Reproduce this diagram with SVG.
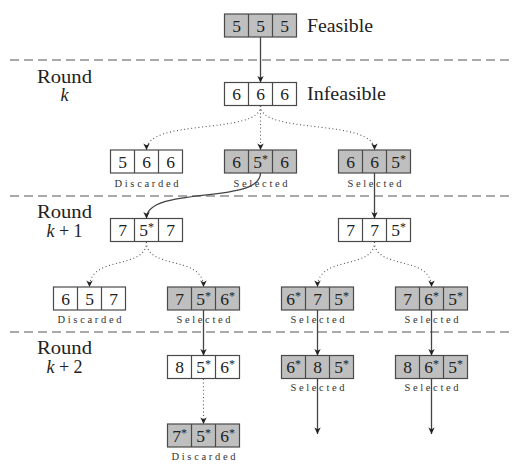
<svg xmlns="http://www.w3.org/2000/svg" width="516" height="464" viewBox="0 0 516 464">
<style>
.bx{stroke:#4a4a4a;stroke-width:1.2}
.g{fill:#bfbfbf}
.w{fill:#ffffff}
.d{font-size:17.5px;fill:#222;text-anchor:middle}
.s{font-size:12px}
.lab{font-size:10.5px;fill:#333;text-anchor:middle}
.big{font-size:18px;fill:#222}
.rd{font-size:18px;fill:#222;text-anchor:middle}
.sep{stroke:#555;stroke-width:1.1;stroke-dasharray:9 5;fill:none}
.sol{stroke:#444;stroke-width:1.3;fill:none;marker-end:url(#ah)}
.dot{stroke:#555;stroke-width:1.1;stroke-dasharray:1 2.6;fill:none;marker-end:url(#ah)}
</style>
<defs>
<marker id="ah" markerUnits="userSpaceOnUse" markerWidth="8" markerHeight="8" refX="7" refY="4" orient="auto">
<path d="M0.5,0.8 L7,4 L0.5,7.2 L2.2,4 Z" fill="#222"/>
</marker>
</defs>
<rect width="516" height="464" fill="#fff"/>
<g id="separators">
<line class="sep" x1="10" y1="60" x2="510" y2="60"/>
<line class="sep" x1="10" y1="196" x2="510" y2="196"/>
<line class="sep" x1="10" y1="332" x2="510" y2="332"/>
</g>
<g id="round-labels">
<text font-family="Liberation Serif" class="rd" x="64.5" y="82.5" textLength="55" lengthAdjust="spacingAndGlyphs">Round</text>
<text font-family="Liberation Serif" class="rd" x="64.5" y="101"><tspan font-style="italic">k</tspan></text>
<text font-family="Liberation Serif" class="rd" x="64.5" y="218" textLength="55" lengthAdjust="spacingAndGlyphs">Round</text>
<text font-family="Liberation Serif" class="rd" x="64.5" y="236.5"><tspan font-style="italic">k</tspan> + 1</text>
<text font-family="Liberation Serif" class="rd" x="64.5" y="354" textLength="55" lengthAdjust="spacingAndGlyphs">Round</text>
<text font-family="Liberation Serif" class="rd" x="64.5" y="373"><tspan font-style="italic">k</tspan> + 2</text>
</g>
<g id="n555">
<rect class="bx g" x="224.5" y="14" width="72" height="23"/>
<path class="bx" d="M248.5,14V37M272.5,14V37"/>
<text font-family="Liberation Serif" class="d" x="236.5" y="31.5">5</text><text font-family="Liberation Serif" class="d" x="260.5" y="31.5">5</text><text font-family="Liberation Serif" class="d" x="284.5" y="31.5">5</text>
<text font-family="Liberation Serif" class="big" x="307" y="32" textLength="66" lengthAdjust="spacingAndGlyphs">Feasible</text>
</g>
<g id="n666">
<rect class="bx w" x="224.5" y="82.5" width="72" height="23"/>
<path class="bx" d="M248.5,82.5V105.5M272.5,82.5V105.5"/>
<text font-family="Liberation Serif" class="d" x="236.5" y="100">6</text><text font-family="Liberation Serif" class="d" x="260.5" y="100">6</text><text font-family="Liberation Serif" class="d" x="284.5" y="100">6</text>
<text font-family="Liberation Serif" class="big" x="307" y="100" textLength="79" lengthAdjust="spacingAndGlyphs">Infeasible</text>
</g>
<g id="n566">
<rect class="bx w" x="110.5" y="150" width="72" height="23"/>
<path class="bx" d="M134.5,150V173M158.5,150V173"/>
<text font-family="Liberation Serif" class="d" x="122.5" y="167.5">5</text><text font-family="Liberation Serif" class="d" x="146.5" y="167.5">6</text><text font-family="Liberation Serif" class="d" x="170.5" y="167.5">6</text>
<text font-family="Liberation Serif" class="lab" x="146.5" y="187" textLength="64" lengthAdjust="spacing">Discarded</text>
</g>
<g id="n65s6">
<rect class="bx g" x="224.5" y="150" width="72" height="23"/>
<path class="bx" d="M248.5,150V173M272.5,150V173"/>
<text font-family="Liberation Serif" class="d" x="236.5" y="167.5">6</text><text font-family="Liberation Serif" class="d" x="260.5" y="167.5">5<tspan class="s" dy="-5">*</tspan></text><text font-family="Liberation Serif" class="d" x="284.5" y="167.5">6</text>
<text font-family="Liberation Serif" class="lab" x="260.5" y="187" textLength="54" lengthAdjust="spacing">Selected</text>
</g>
<g id="n665s">
<rect class="bx g" x="338.5" y="150" width="72" height="23"/>
<path class="bx" d="M362.5,150V173M386.5,150V173"/>
<text font-family="Liberation Serif" class="d" x="350.5" y="167.5">6</text><text font-family="Liberation Serif" class="d" x="374.5" y="167.5">6</text><text font-family="Liberation Serif" class="d" x="398.5" y="167.5">5<tspan class="s" dy="-5">*</tspan></text>
<text font-family="Liberation Serif" class="lab" x="374.5" y="187" textLength="54" lengthAdjust="spacing">Selected</text>
</g>
<g id="n75s7">
<rect class="bx w" x="110.5" y="218.5" width="72" height="23"/>
<path class="bx" d="M134.5,218.5V241.5M158.5,218.5V241.5"/>
<text font-family="Liberation Serif" class="d" x="122.5" y="236">7</text><text font-family="Liberation Serif" class="d" x="146.5" y="236">5<tspan class="s" dy="-5">*</tspan></text><text font-family="Liberation Serif" class="d" x="170.5" y="236">7</text>
</g>
<g id="n775s">
<rect class="bx w" x="338.5" y="218.5" width="72" height="23"/>
<path class="bx" d="M362.5,218.5V241.5M386.5,218.5V241.5"/>
<text font-family="Liberation Serif" class="d" x="350.5" y="236">7</text><text font-family="Liberation Serif" class="d" x="374.5" y="236">7</text><text font-family="Liberation Serif" class="d" x="398.5" y="236">5<tspan class="s" dy="-5">*</tspan></text>
</g>
<g id="n657">
<rect class="bx w" x="53.5" y="287" width="72" height="23"/>
<path class="bx" d="M77.5,287V310M101.5,287V310"/>
<text font-family="Liberation Serif" class="d" x="65.5" y="304.5">6</text><text font-family="Liberation Serif" class="d" x="89.5" y="304.5">5</text><text font-family="Liberation Serif" class="d" x="113.5" y="304.5">7</text>
<text font-family="Liberation Serif" class="lab" x="89.5" y="322.5" textLength="64" lengthAdjust="spacing">Discarded</text>
</g>
<g id="n75s6s">
<rect class="bx g" x="167.5" y="287" width="72" height="23"/>
<path class="bx" d="M191.5,287V310M215.5,287V310"/>
<text font-family="Liberation Serif" class="d" x="179.5" y="304.5">7</text><text font-family="Liberation Serif" class="d" x="203.5" y="304.5">5<tspan class="s" dy="-5">*</tspan></text><text font-family="Liberation Serif" class="d" x="227.5" y="304.5">6<tspan class="s" dy="-5">*</tspan></text>
<text font-family="Liberation Serif" class="lab" x="203.5" y="322.5" textLength="54" lengthAdjust="spacing">Selected</text>
</g>
<g id="n6s75s">
<rect class="bx g" x="281.5" y="287" width="72" height="23"/>
<path class="bx" d="M305.5,287V310M329.5,287V310"/>
<text font-family="Liberation Serif" class="d" x="293.5" y="304.5">6<tspan class="s" dy="-5">*</tspan></text><text font-family="Liberation Serif" class="d" x="317.5" y="304.5">7</text><text font-family="Liberation Serif" class="d" x="341.5" y="304.5">5<tspan class="s" dy="-5">*</tspan></text>
<text font-family="Liberation Serif" class="lab" x="317.5" y="322.5" textLength="54" lengthAdjust="spacing">Selected</text>
</g>
<g id="n76s5s">
<rect class="bx g" x="395.5" y="287" width="72" height="23"/>
<path class="bx" d="M419.5,287V310M443.5,287V310"/>
<text font-family="Liberation Serif" class="d" x="407.5" y="304.5">7</text><text font-family="Liberation Serif" class="d" x="431.5" y="304.5">6<tspan class="s" dy="-5">*</tspan></text><text font-family="Liberation Serif" class="d" x="455.5" y="304.5">5<tspan class="s" dy="-5">*</tspan></text>
<text font-family="Liberation Serif" class="lab" x="431.5" y="322.5" textLength="54" lengthAdjust="spacing">Selected</text>
</g>
<g id="n85s6s">
<rect class="bx w" x="167.5" y="355.5" width="72" height="23"/>
<path class="bx" d="M191.5,355.5V378.5M215.5,355.5V378.5"/>
<text font-family="Liberation Serif" class="d" x="179.5" y="373">8</text><text font-family="Liberation Serif" class="d" x="203.5" y="373">5<tspan class="s" dy="-5">*</tspan></text><text font-family="Liberation Serif" class="d" x="227.5" y="373">6<tspan class="s" dy="-5">*</tspan></text>
</g>
<g id="n6s85s">
<rect class="bx g" x="281.5" y="355.5" width="72" height="23"/>
<path class="bx" d="M305.5,355.5V378.5M329.5,355.5V378.5"/>
<text font-family="Liberation Serif" class="d" x="293.5" y="373">6<tspan class="s" dy="-5">*</tspan></text><text font-family="Liberation Serif" class="d" x="317.5" y="373">8</text><text font-family="Liberation Serif" class="d" x="341.5" y="373">5<tspan class="s" dy="-5">*</tspan></text>
<text font-family="Liberation Serif" class="lab" x="317.5" y="391" textLength="54" lengthAdjust="spacing">Selected</text>
</g>
<g id="n86s5s">
<rect class="bx g" x="395.5" y="355.5" width="72" height="23"/>
<path class="bx" d="M419.5,355.5V378.5M443.5,355.5V378.5"/>
<text font-family="Liberation Serif" class="d" x="407.5" y="373">8</text><text font-family="Liberation Serif" class="d" x="431.5" y="373">6<tspan class="s" dy="-5">*</tspan></text><text font-family="Liberation Serif" class="d" x="455.5" y="373">5<tspan class="s" dy="-5">*</tspan></text>
<text font-family="Liberation Serif" class="lab" x="431.5" y="391" textLength="54" lengthAdjust="spacing">Selected</text>
</g>
<g id="n7s5s6s">
<rect class="bx g" x="167.5" y="424" width="72" height="23"/>
<path class="bx" d="M191.5,424V447M215.5,424V447"/>
<text font-family="Liberation Serif" class="d" x="179.5" y="441.5">7<tspan class="s" dy="-5">*</tspan></text><text font-family="Liberation Serif" class="d" x="203.5" y="441.5">5<tspan class="s" dy="-5">*</tspan></text><text font-family="Liberation Serif" class="d" x="227.5" y="441.5">6<tspan class="s" dy="-5">*</tspan></text>
<text font-family="Liberation Serif" class="lab" x="203.5" y="459.5" textLength="64" lengthAdjust="spacing">Discarded</text>
</g>
<g id="connectors">
<path class="sol" d="M260.5,37V82.5"/>
<path class="dot" d="M260.5,106C260.5,135 146.5,118 146.5,150"/>
<path class="dot" d="M260.5,106V150"/>
<path class="dot" d="M260.5,106C260.5,135 374.5,118 374.5,150"/>
<path class="sol" d="M260.5,173C260.5,205 146.5,185 146.5,218.5"/>
<path class="sol" d="M374.5,173V218.5"/>
<path class="dot" d="M146.5,242C146.5,270 89.5,255 89.5,287"/>
<path class="dot" d="M146.5,242C146.5,270 203.5,255 203.5,287"/>
<path class="dot" d="M374.5,242C374.5,270 317.5,255 317.5,287"/>
<path class="dot" d="M374.5,242C374.5,270 431.5,255 431.5,287"/>
<path class="sol" d="M203.5,310V355.5"/>
<path class="sol" d="M317.5,310V355.5"/>
<path class="sol" d="M431.5,310V355.5"/>
<path class="dot" d="M203.5,379V424"/>
<path class="sol" d="M317.5,378.5V434"/>
<path class="sol" d="M431.5,378.5V434"/>
</g>
</svg>
